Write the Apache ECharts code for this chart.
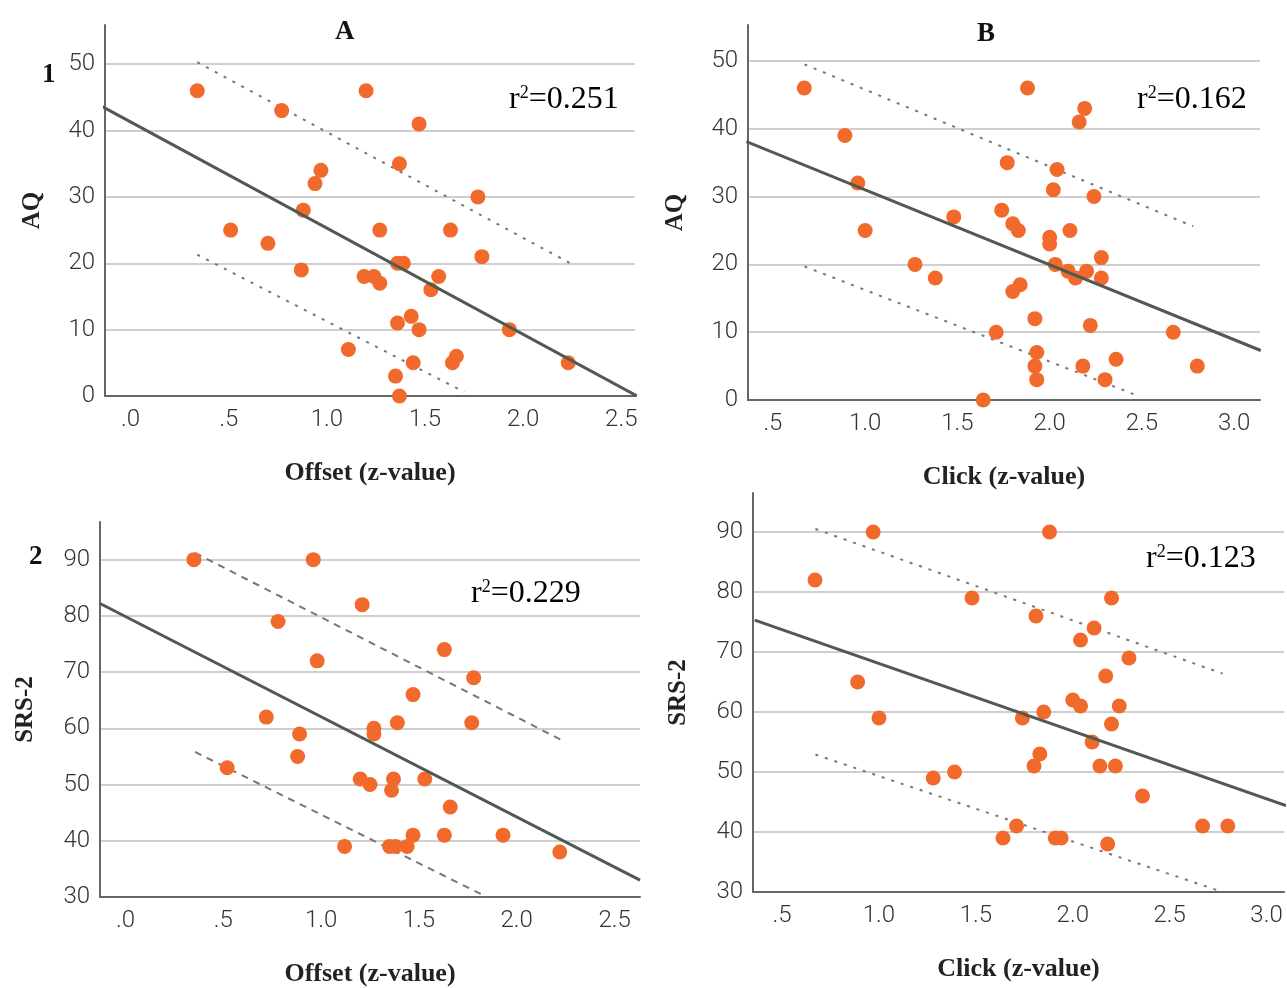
<!DOCTYPE html>
<html>
<head>
<meta charset="utf-8">
<title>AQ / SRS-2 scatter</title>
<script src="https://cdn.jsdelivr.net/npm/echarts@6/dist/echarts.min.js"></script>
<style>
  html, body { margin: 0; padding: 0; background: #fff; }
  #main { width: 1287px; height: 988px; }
</style>
</head>
<body>
<div id="main"></div>
<script>
// data: [z-value, score]
var offsetAQ = [[0.34,46],[0.77,43],[1.20,46],[1.47,41],[1.37,35],[0.97,34],[0.94,32],[1.77,30],
  [0.88,28],[0.51,25],[1.27,25],[1.63,25],[0.70,23],[1.79,21],[1.36,20],[1.39,20],[0.87,19],
  [1.19,18],[1.24,18],[1.27,17],[1.57,18],[1.53,16],[1.43,12],[1.36,11],[1.47,10],[1.93,10],
  [1.11,7],[1.66,6],[1.64,5],[1.44,5],[2.23,5],[1.35,3],[1.37,0]];
var clickAQ = [[0.67,46],[1.88,46],[2.19,43],[2.16,41],[0.89,39],[1.77,35],[2.04,34],[0.96,32],
  [2.02,31],[2.24,30],[1.74,28],[1.48,27],[1.80,26],[1.83,25],[1.00,25],[2.11,25],[2.00,24],
  [2.00,23],[2.28,21],[1.27,20],[2.03,20],[2.10,19],[2.20,19],[2.14,18],[2.28,18],[1.38,18],
  [1.84,17],[1.80,16],[1.92,12],[2.22,11],[1.71,10],[2.67,10],[1.93,7],[2.36,6],[1.92,5],
  [2.18,5],[2.80,5],[1.93,3],[2.30,3],[1.64,0]];
var offsetSRS = [[0.35,90],[0.96,90],[1.21,82],[0.78,79],[1.63,74],[0.98,72],[1.78,69],[1.47,66],
  [0.72,62],[1.39,61],[1.77,61],[1.27,60],[1.27,59],[0.89,59],[0.88,55],[0.52,53],[1.20,51],
  [1.37,51],[1.53,51],[1.25,50],[1.36,49],[1.66,46],[1.47,41],[1.63,41],[1.93,41],[1.12,39],
  [1.35,39],[1.38,39],[1.44,39],[2.22,38]];
var clickSRS = [[0.67,82],[0.97,90],[1.88,90],[1.48,79],[2.20,79],[1.81,76],[2.11,74],[2.04,72],
  [2.29,69],[2.17,66],[0.89,65],[2.00,62],[2.04,61],[2.24,61],[1.85,60],[1.00,59],[1.74,59],
  [2.20,58],[2.10,55],[1.83,53],[1.80,51],[2.14,51],[2.22,51],[1.39,50],[1.28,49],[2.36,46],
  [1.71,41],[2.67,41],[2.80,41],[1.64,39],[1.91,39],[1.94,39],[2.18,38]];

// fit lines and prediction bands (end points)
var fitLines = [[[-0.15,43.7],[2.58,0]], [[0.356,38.1],[3.144,7.3]],
  [[-0.13,82.2],[2.63,33.0]], [[0.359,75.3],[3.10,44.4]]];
var upperBands = [[[0.34,50.3],[2.24,20.0]], [[0.671,49.5],[2.778,25.6]],
  [[0.356,91.2],[2.224,58.0]], [[0.672,90.5],[2.773,66.4]]];
var lowerBands = [[[0.34,21.3],[1.70,0.6]], [[0.671,19.7],[2.489,0.5]],
  [[0.356,55.8],[1.847,30.0]], [[0.672,52.9],[2.773,30.0]]];

var rSquared = ['0.251', '0.162', '0.229', '0.123'];
var xNames = ['Offset (z-value)', 'Click (z-value)', 'Offset (z-value)', 'Click (z-value)'];
var yNames = ['AQ', 'AQ', 'SRS-2', 'SRS-2'];
var columnLetters = ['A', 'B'];
var rowNumbers = ['1', '2'];
var xRanges = [[-0.13, 2.57], [0.365, 3.14], [-0.13, 2.63], [0.35, 3.09]];
var yRanges = [[0, 55.9], [0, 55.3], [30, 96.7], [30, 96.5]];

var myChart = echarts.init(document.getElementById('main'));

var serif = '"Liberation Serif", "DejaVu Serif", serif';
var tickFont = 'Roboto, "Liberation Sans", sans-serif';
var pointSets = [offsetAQ, clickAQ, offsetSRS, clickSRS];
var dashTypes = [[3, 7], [3, 7], [7, 6], [3, 7]];

var grids = [
  { left: 105, top: 25, width: 530, height: 371 },
  { left: 748, top: 25, width: 512, height: 375 },
  { left: 100, top: 522, width: 540, height: 376 },
  { left: 753, top: 493, width: 534, height: 399 }
];

function xLabel(v) {
  var r = Math.round(v * 2) / 2;
  if (Math.abs(v - r) > 1e-6) return '';
  var s = r.toFixed(1);
  return s.charAt(0) === '0' ? s.slice(1) : s;
}
function yLabel(v) {
  return Math.abs(v % 10) < 1e-6 ? String(v) : '';
}

var xAxes = [], yAxes = [], series = [];
for (var i = 0; i < 4; i++) {
  xAxes.push({
    type: 'value', gridIndex: i, min: xRanges[i][0], max: xRanges[i][1],
    minInterval: 0.5, maxInterval: 0.5,
    name: xNames[i], nameLocation: 'middle', nameGap: 64,
    nameTextStyle: { fontFamily: serif, fontWeight: 'bold', fontSize: 26, color: '#222' },
    axisLine: { onZero: false, lineStyle: { color: '#666', width: 2 } },
    axisTick: { show: false },
    splitLine: { show: false },
    axisLabel: { formatter: xLabel, fontFamily: tickFont, fontWeight: 300, fontSize: 24,
      color: '#333', margin: 12 }
  });
  yAxes.push({
    type: 'value', gridIndex: i, min: yRanges[i][0], max: yRanges[i][1], interval: 10,
    name: yNames[i], nameLocation: 'middle', nameGap: i < 2 ? 60 : 62,
    nameTextStyle: { fontFamily: serif, fontWeight: 'bold', fontSize: 25, color: '#222' },
    axisLine: { show: true, onZero: false, lineStyle: { color: '#666', width: 2 } },
    axisTick: { show: false },
    splitLine: { show: true, showMinLine: false, showMaxLine: false,
      lineStyle: { color: '#cfcfcf', width: 2 } },
    axisLabel: { formatter: yLabel, showMaxLabel: false, fontFamily: tickFont, fontWeight: 300,
      fontSize: 24, color: '#333', margin: 10 }
  });
  series.push({
    type: 'line', xAxisIndex: i, yAxisIndex: i, data: upperBands[i], showSymbol: false,
    lineStyle: { color: '#777', width: 2, type: dashTypes[i] }, silent: true, z: 2
  });
  series.push({
    type: 'line', xAxisIndex: i, yAxisIndex: i, data: lowerBands[i], showSymbol: false,
    lineStyle: { color: '#777', width: 2, type: dashTypes[i] }, silent: true, z: 2
  });
  series.push({
    type: 'scatter', xAxisIndex: i, yAxisIndex: i, data: pointSets[i], symbolSize: 15,
    itemStyle: { color: '#f26a2b', opacity: 1 }, z: 3
  });
  series.push({
    type: 'line', xAxisIndex: i, yAxisIndex: i, data: fitLines[i], showSymbol: false,
    lineStyle: { color: '#4e5a52', width: 3 }, silent: true, z: 4
  });
}

function rText(value, x, y) {
  return {
    type: 'text', left: x, top: y,
    style: {
      text: '{r|r}{s|2}{r|=' + value + '}',
      rich: {
        r: { fontFamily: serif, fontSize: 32, color: '#111' },
        s: { fontFamily: serif, fontSize: 18, color: '#111', verticalAlign: 'top', padding: [0, 0, 13, 0] }
      }
    }
  };
}
function bold(t, x, y, size) {
  return { type: 'text', left: x, top: y,
    style: { text: t, fontFamily: serif, fontWeight: 'bold', fontSize: size, fill: '#111' } };
}

var option = {
  animation: false,
  grid: grids,
  xAxis: xAxes,
  yAxis: yAxes,
  series: series,
  graphic: [
    bold(columnLetters[0], 335, 19, 27),
    bold(columnLetters[1], 977, 21, 27),
    bold(rowNumbers[0], 42, 62, 27),
    bold(rowNumbers[1], 29, 544, 27),
    rText(rSquared[0], 509, 84),
    rText(rSquared[1], 1137, 84),
    rText(rSquared[2], 471, 578),
    rText(rSquared[3], 1146, 543)
  ]
};
myChart.setOption(option);
</script>
</body>
</html>
